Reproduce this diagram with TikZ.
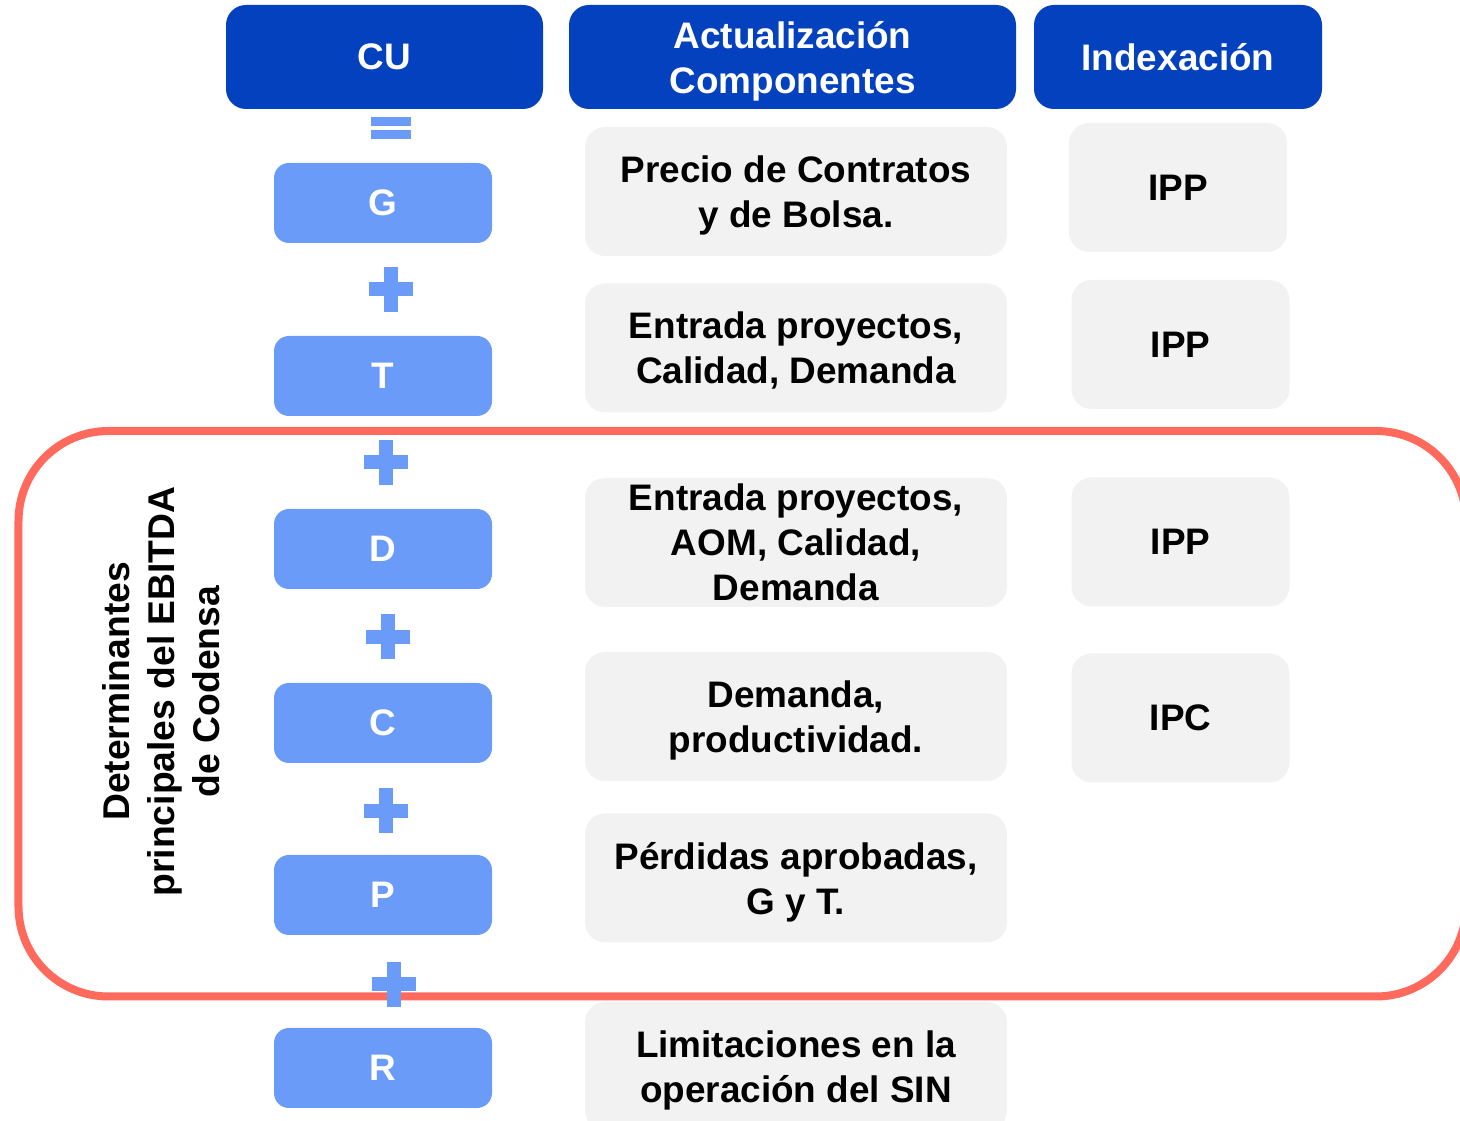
\documentclass[tikz,border=0pt]{standalone}
\usepackage{fontspec}
\setmainfont{Liberation Sans}
\usepackage{xcolor}
\usepackage{tikz}
\usetikzlibrary{positioning}
\definecolor{hdblue}{RGB}{4,65,190}
\definecolor{termblue}{RGB}{106,155,248}
\definecolor{cellgray}{RGB}{242,242,242}
\definecolor{framered}{RGB}{255,106,92}
\newcommand{\boxfont}{\fontsize{10.5pt}{12.8pt}\selectfont\bfseries}

\begin{document}
\begin{tikzpicture}[
    head/.style={fill=hdblue,text=white,rounded corners=0.2cm,align=center,inner sep=0pt,minimum height=1.04cm,font=\boxfont},
    term/.style={fill=termblue,text=white,rounded corners=0.15cm,inner sep=0pt,minimum width=2.18cm,minimum height=0.8cm,font=\boxfont},
    cell/.style={fill=cellgray,rounded corners=0.2cm,align=center,inner sep=0pt,text depth=0pt,minimum width=4.22cm,minimum height=1.29cm,font=\boxfont},
    idxcell/.style={fill=cellgray,rounded corners=0.2cm,inner sep=0pt,minimum width=2.18cm,minimum height=1.29cm,font=\boxfont}
]
    \useasboundingbox (0,0) rectangle (14.6,-11.21);

    % Frame around the EBITDA terms
    \draw[framered,line width=0.08cm,rounded corners=0.9cm] (0.185,-4.31) rectangle (14.66,-9.965);
    \node[rotate=90,align=center,font=\fontsize{10.6pt}{12.8pt}\selectfont\bfseries] (det) at (1.61,-6.915)
        {Determinantes\\principales del EBITDA\\de Codensa};

    % Headers
    \node[head,minimum width=3.17cm] (cu) at (3.845,-0.57) {CU};
    \node[head,text depth=0pt,minimum width=4.47cm] (act) at (7.925,-0.57) {Actualización\\Componentes};
    \node[head,minimum width=2.88cm] (idx) at (11.78,-0.57) {Indexación};

    % Terms
    \node[term] (g) at (3.83,-2.03) {G};
    \node[term] (t) at (3.83,-3.76) {T};
    \node[term] (d) at (3.83,-5.49) {D};
    \node[term] (c) at (3.83,-7.23) {C};
    \node[term] (p) at (3.83,-8.95) {P};
    \node[term] (r) at (3.83,-10.68) {R};

    % Equals and plus signs
    \fill[termblue] (3.71,-1.17) rectangle (4.11,-1.26);
    \fill[termblue] (3.71,-1.30) rectangle (4.11,-1.39);
    \foreach \px/\py in {3.91/-2.895,3.855/-4.625,3.88/-6.37,3.855/-8.11,3.935/-9.845}{
        \fill[termblue] (\px-0.22,\py-0.07) rectangle (\px+0.22,\py+0.07);
        \fill[termblue] (\px-0.07,\py-0.225) rectangle (\px+0.07,\py+0.225);
    }

    % Components
    \node[cell] (mg) at (7.96,-1.915) {Precio de Contratos\\y de Bolsa.};
    \node[cell] (mt) at (7.96,-3.48) {Entrada proyectos,\\Calidad, Demanda};
    \node[cell] (md) at (7.96,-5.425) {Entrada proyectos,\\AOM, Calidad,\\Demanda};
    \node[cell] (mc) at (7.96,-7.165) {Demanda,\\productividad.};
    \node[cell] (mp) at (7.96,-8.78) {Pérdidas aprobadas,\\G y T.};
    \node[cell] (mr) at (7.96,-10.665) {Limitaciones en la\\operación del SIN};

    % Indexation
    \node[idxcell] (ig) at (11.78,-1.875) {IPP};
    \node[idxcell] (it) at (11.805,-3.445) {IPP};
    \node[idxcell] (id) at (11.805,-5.42) {IPP};
    \node[idxcell] (ic) at (11.805,-7.18) {IPC};
\end{tikzpicture}
\end{document}
